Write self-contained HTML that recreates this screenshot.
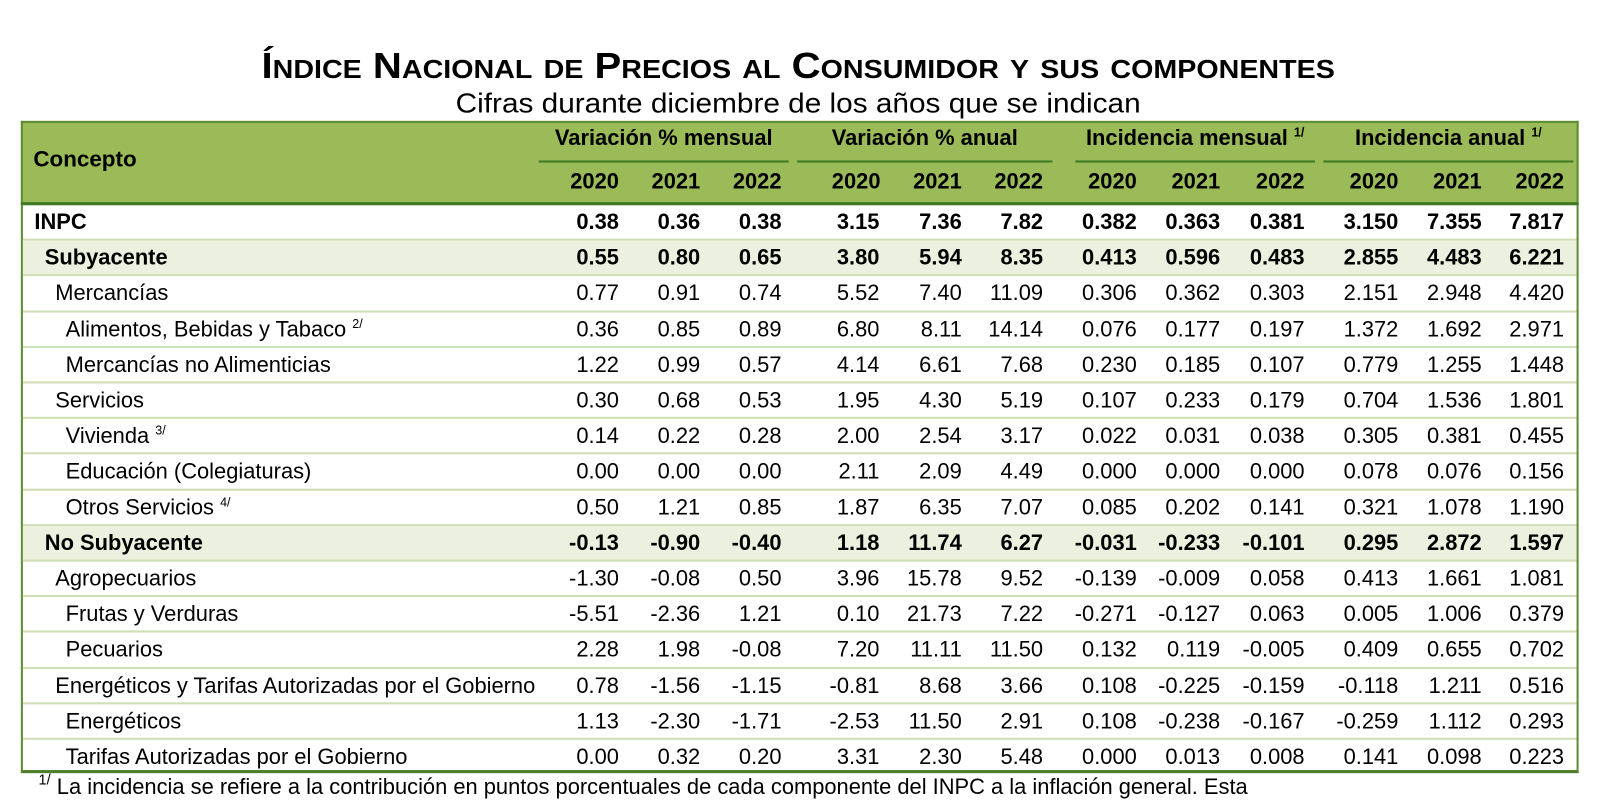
<!DOCTYPE html>
<html><head><meta charset="utf-8">
<style>
body{margin:0;width:1600px;height:783px;overflow:hidden;background:#fff;position:relative;font-family:"Liberation Sans",Arial,sans-serif;color:#000}
#w{position:absolute;left:0;top:0;width:1540px;height:760px;transform:scale(1.042);transform-origin:0 0}
.t{position:absolute;left:0;width:1532px;text-align:center;top:44px;font-size:35px;font-weight:bold;font-variant:small-caps;transform:scaleX(1.10);transform-origin:766px 0;white-space:nowrap}
.st{position:absolute;left:0;width:1532px;text-align:center;top:84px;font-size:27px;transform:scaleX(1.058);transform-origin:766px 0;white-space:nowrap}
.hdr{position:absolute;left:20px;top:116px;width:1495px;height:80px;background:#9bbb59;border-top:2px solid #5f8f35;box-sizing:border-box}
.frame{position:absolute;left:20px;top:116px;width:1495px;height:626px;border-left:2px solid #5f8f35;border-right:2px solid #5f8f35;border-bottom:3px solid #4f7f2a;box-sizing:border-box}
.hline{position:absolute;left:20px;width:1495px;top:194px;height:3px;background:#3f7a25}
.gu{position:absolute;top:154px;height:2px;background:#3f7a25}
.gh{position:absolute;top:121px;font-size:21px;font-weight:bold;text-align:center;white-space:nowrap}
.yh{position:absolute;top:163px;font-size:21px;font-weight:bold;width:70px;text-align:right}
sup{font-size:12px;vertical-align:8px;font-weight:normal;line-height:0}
.gh sup{font-weight:bold}
.r{position:absolute;left:22px;width:1491px;height:34.2px;border-bottom:2px solid #cfdfb5;box-sizing:border-box;font-size:21px;line-height:33px}
.r.s{background:#ebf1de}
.r.b{font-weight:bold}
.r span{position:absolute;top:0;width:90px;text-align:right;white-space:nowrap}
.r .l{width:auto;text-align:left}
.c1{left:482px}.c2{left:560px}.c3{left:638px}.c4{left:732px}.c5{left:811px}.c6{left:889px}
.c7{left:979px}.c8{left:1059px}.c9{left:1140px}.c10{left:1230px}.c11{left:1310px}.c12{left:1389px}
.fn{position:absolute;left:37px;top:744px;font-size:21px;white-space:nowrap}
</style></head><body><div id="w">
<div class="t">Índice Nacional de Precios al Consumidor y sus componentes</div>
<div class="st">Cifras durante diciembre de los años que se indican</div>
<div class="hdr"></div>
<div class="frame"></div>
<div style="position:absolute;left:32px;top:141px;font-size:21.5px;font-weight:bold">Concepto</div>
<div class="gh" style="left:517px;width:240px">Variación % mensual</div>
<div class="gh" style="left:765px;width:245px">Variación % anual</div>
<div class="gh" style="left:1032px;width:230px">Incidencia mensual <sup>1/</sup></div>
<div class="gh" style="left:1270px;width:240px">Incidencia anual <sup>1/</sup></div>
<div class="gu" style="left:517px;width:240px"></div>
<div class="gu" style="left:765px;width:245px"></div>
<div class="gu" style="left:1032px;width:230px"></div>
<div class="gu" style="left:1270px;width:240px"></div>
<div class="yh" style="left:524px">2020</div><div class="yh" style="left:602px">2021</div><div class="yh" style="left:680px">2022</div>
<div class="yh" style="left:775px">2020</div><div class="yh" style="left:853px">2021</div><div class="yh" style="left:931px">2022</div>
<div class="yh" style="left:1021px">2020</div><div class="yh" style="left:1101px">2021</div><div class="yh" style="left:1182px">2022</div>
<div class="yh" style="left:1272px">2020</div><div class="yh" style="left:1352px">2021</div><div class="yh" style="left:1431px">2022</div>
<div class="hline"></div>

<div class="r b" style="top:197px"><span class="l" style="left:11px">INPC</span><span class="c1">0.38</span><span class="c2">0.36</span><span class="c3">0.38</span><span class="c4">3.15</span><span class="c5">7.36</span><span class="c6">7.82</span><span class="c7">0.382</span><span class="c8">0.363</span><span class="c9">0.381</span><span class="c10">3.150</span><span class="c11">7.355</span><span class="c12">7.817</span></div>
<div class="r b s" style="top:231.2px"><span class="l" style="left:21px">Subyacente</span><span class="c1">0.55</span><span class="c2">0.80</span><span class="c3">0.65</span><span class="c4">3.80</span><span class="c5">5.94</span><span class="c6">8.35</span><span class="c7">0.413</span><span class="c8">0.596</span><span class="c9">0.483</span><span class="c10">2.855</span><span class="c11">4.483</span><span class="c12">6.221</span></div>
<div class="r" style="top:265.4px"><span class="l" style="left:31px">Mercancías</span><span class="c1">0.77</span><span class="c2">0.91</span><span class="c3">0.74</span><span class="c4">5.52</span><span class="c5">7.40</span><span class="c6">11.09</span><span class="c7">0.306</span><span class="c8">0.362</span><span class="c9">0.303</span><span class="c10">2.151</span><span class="c11">2.948</span><span class="c12">4.420</span></div>
<div class="r" style="top:299.6px"><span class="l" style="left:41px">Alimentos, Bebidas y Tabaco <sup>2/</sup></span><span class="c1">0.36</span><span class="c2">0.85</span><span class="c3">0.89</span><span class="c4">6.80</span><span class="c5">8.11</span><span class="c6">14.14</span><span class="c7">0.076</span><span class="c8">0.177</span><span class="c9">0.197</span><span class="c10">1.372</span><span class="c11">1.692</span><span class="c12">2.971</span></div>
<div class="r" style="top:333.8px"><span class="l" style="left:41px">Mercancías no Alimenticias</span><span class="c1">1.22</span><span class="c2">0.99</span><span class="c3">0.57</span><span class="c4">4.14</span><span class="c5">6.61</span><span class="c6">7.68</span><span class="c7">0.230</span><span class="c8">0.185</span><span class="c9">0.107</span><span class="c10">0.779</span><span class="c11">1.255</span><span class="c12">1.448</span></div>
<div class="r" style="top:368px"><span class="l" style="left:31px">Servicios</span><span class="c1">0.30</span><span class="c2">0.68</span><span class="c3">0.53</span><span class="c4">1.95</span><span class="c5">4.30</span><span class="c6">5.19</span><span class="c7">0.107</span><span class="c8">0.233</span><span class="c9">0.179</span><span class="c10">0.704</span><span class="c11">1.536</span><span class="c12">1.801</span></div>
<div class="r" style="top:402.2px"><span class="l" style="left:41px">Vivienda <sup>3/</sup></span><span class="c1">0.14</span><span class="c2">0.22</span><span class="c3">0.28</span><span class="c4">2.00</span><span class="c5">2.54</span><span class="c6">3.17</span><span class="c7">0.022</span><span class="c8">0.031</span><span class="c9">0.038</span><span class="c10">0.305</span><span class="c11">0.381</span><span class="c12">0.455</span></div>
<div class="r" style="top:436.4px"><span class="l" style="left:41px">Educación (Colegiaturas)</span><span class="c1">0.00</span><span class="c2">0.00</span><span class="c3">0.00</span><span class="c4">2.11</span><span class="c5">2.09</span><span class="c6">4.49</span><span class="c7">0.000</span><span class="c8">0.000</span><span class="c9">0.000</span><span class="c10">0.078</span><span class="c11">0.076</span><span class="c12">0.156</span></div>
<div class="r" style="top:470.6px"><span class="l" style="left:41px">Otros Servicios <sup>4/</sup></span><span class="c1">0.50</span><span class="c2">1.21</span><span class="c3">0.85</span><span class="c4">1.87</span><span class="c5">6.35</span><span class="c6">7.07</span><span class="c7">0.085</span><span class="c8">0.202</span><span class="c9">0.141</span><span class="c10">0.321</span><span class="c11">1.078</span><span class="c12">1.190</span></div>
<div class="r b s" style="top:504.8px"><span class="l" style="left:21px">No Subyacente</span><span class="c1">-0.13</span><span class="c2">-0.90</span><span class="c3">-0.40</span><span class="c4">1.18</span><span class="c5">11.74</span><span class="c6">6.27</span><span class="c7">-0.031</span><span class="c8">-0.233</span><span class="c9">-0.101</span><span class="c10">0.295</span><span class="c11">2.872</span><span class="c12">1.597</span></div>
<div class="r" style="top:539px"><span class="l" style="left:31px">Agropecuarios</span><span class="c1">-1.30</span><span class="c2">-0.08</span><span class="c3">0.50</span><span class="c4">3.96</span><span class="c5">15.78</span><span class="c6">9.52</span><span class="c7">-0.139</span><span class="c8">-0.009</span><span class="c9">0.058</span><span class="c10">0.413</span><span class="c11">1.661</span><span class="c12">1.081</span></div>
<div class="r" style="top:573.2px"><span class="l" style="left:41px">Frutas y Verduras</span><span class="c1">-5.51</span><span class="c2">-2.36</span><span class="c3">1.21</span><span class="c4">0.10</span><span class="c5">21.73</span><span class="c6">7.22</span><span class="c7">-0.271</span><span class="c8">-0.127</span><span class="c9">0.063</span><span class="c10">0.005</span><span class="c11">1.006</span><span class="c12">0.379</span></div>
<div class="r" style="top:607.4px"><span class="l" style="left:41px">Pecuarios</span><span class="c1">2.28</span><span class="c2">1.98</span><span class="c3">-0.08</span><span class="c4">7.20</span><span class="c5">11.11</span><span class="c6">11.50</span><span class="c7">0.132</span><span class="c8">0.119</span><span class="c9">-0.005</span><span class="c10">0.409</span><span class="c11">0.655</span><span class="c12">0.702</span></div>
<div class="r" style="top:641.6px"><span class="l" style="left:31px">Energéticos y Tarifas Autorizadas por el Gobierno</span><span class="c1">0.78</span><span class="c2">-1.56</span><span class="c3">-1.15</span><span class="c4">-0.81</span><span class="c5">8.68</span><span class="c6">3.66</span><span class="c7">0.108</span><span class="c8">-0.225</span><span class="c9">-0.159</span><span class="c10">-0.118</span><span class="c11">1.211</span><span class="c12">0.516</span></div>
<div class="r" style="top:675.8px"><span class="l" style="left:41px">Energéticos</span><span class="c1">1.13</span><span class="c2">-2.30</span><span class="c3">-1.71</span><span class="c4">-2.53</span><span class="c5">11.50</span><span class="c6">2.91</span><span class="c7">0.108</span><span class="c8">-0.238</span><span class="c9">-0.167</span><span class="c10">-0.259</span><span class="c11">1.112</span><span class="c12">0.293</span></div>
<div class="r" style="top:710px;border-bottom:none"><span class="l" style="left:41px">Tarifas Autorizadas por el Gobierno</span><span class="c1">0.00</span><span class="c2">0.32</span><span class="c3">0.20</span><span class="c4">3.31</span><span class="c5">2.30</span><span class="c6">5.48</span><span class="c7">0.000</span><span class="c8">0.013</span><span class="c9">0.008</span><span class="c10">0.141</span><span class="c11">0.098</span><span class="c12">0.223</span></div>

<div class="fn"><sup style="font-size:14px;vertical-align:9px">1/</sup> La incidencia se refiere a la contribución en puntos porcentuales de cada componente del INPC a la inflación general. Esta</div>
</div></body></html>
